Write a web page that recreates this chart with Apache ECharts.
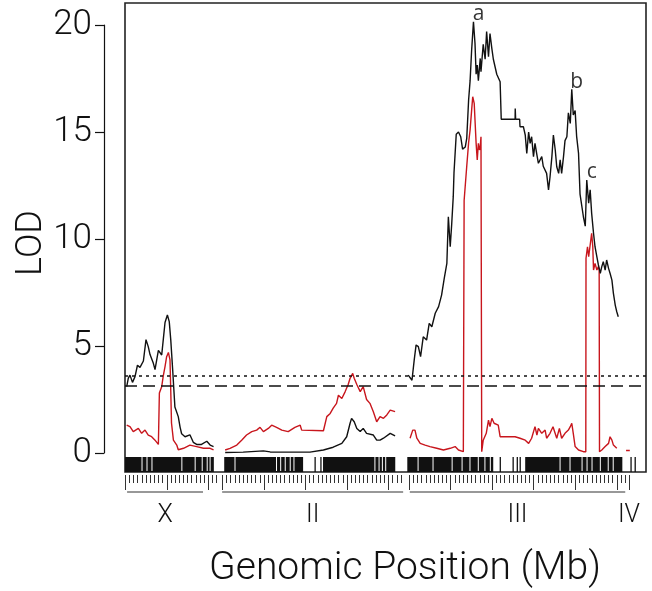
<!DOCTYPE html>
<html><head><meta charset="utf-8">
<script src="https://cdn.jsdelivr.net/npm/echarts@6/dist/echarts.min.js"></script>
<style>html,body{margin:0;padding:0;background:#fff}#c{width:652px;height:591px}</style>
</head><body><div id="c"></div>
<script>
// ---- data (positions in Mb along concatenated genome, LOD values) ----
const blackX = [[0.41,3.1],[0.8,3.5],[1.2,3.64],[1.8,3.3],[2.41,3.57],[3.0,4.1],[3.61,4.0],[4.43,4.3],[5.06,5.3],[5.6,4.97],[6.03,4.6],[6.83,4.19],[7.23,3.9],[8.04,4.8],[8.84,4.58],[9.22,5.3],[9.64,6.1],[10.21,6.45],[10.66,6.14],[11.02,5.3],[11.48,3.9],[12.02,2.15],[12.83,1.7],[13.28,1.2],[13.64,0.9],[14.46,0.76],[15.63,0.85],[16.45,0.5],[17.26,0.4],[18.43,0.4],[19.7,0.55],[20.51,0.37],[21.33,0.3]];
const redX = [[0.41,1.3],[1.2,1.23],[1.99,1.0],[3.22,1.15],[4.01,0.92],[4.82,1.07],[5.6,0.84],[6.42,0.76],[7.23,0.6],[8.04,0.4],[8.2,0.35],[8.28,2.8],[8.84,3.1],[9.22,3.6],[9.64,4.04],[10.03,4.5],[10.45,4.7],[10.84,4.35],[11.02,2.94],[11.2,1.4],[11.66,0.6],[12.47,0.37],[12.83,0.15],[14.1,0.22],[15.63,0.37],[17.26,0.3],[18.89,0.22],[20.51,0.22],[21.33,0.15]];
const blackII = [[24.13,0.02],[28.46,0.04],[33.34,0.1],[34.97,0.05],[40.48,0.04],[44.55,0.04],[47.8,0.14],[50.15,0.27],[52.23,0.45],[53.4,0.76],[54.22,1.39],[54.58,1.62],[55.21,1.46],[55.84,1.15],[56.66,1.0],[57.38,1.15],[58.19,0.92],[59.82,0.84],[60.63,0.6],[61.44,0.6],[62.26,0.69],[63.88,0.92],[65.06,0.8]];
const redII = [[24.13,0.14],[25.3,0.22],[26.93,0.37],[28.1,0.6],[29.28,0.84],[30.54,1.0],[31.72,1.07],[32.53,1.2],[33.34,1.0],[34.52,1.15],[35.33,1.3],[36.51,1.2],[37.77,1.07],[39.31,1.0],[40.93,1.2],[42.2,1.3],[42.56,1.07],[47.8,1.04],[48.61,1.7],[49.43,1.85],[50.15,2.1],[50.96,2.32],[51.41,2.7],[52.23,2.55],[53.04,2.87],[53.76,3.2],[54.22,3.49],[54.85,3.72],[55.21,3.49],[55.84,3.2],[56.66,2.87],[57.38,3.1],[58.19,2.5],[59.0,2.32],[59.82,1.93],[60.63,1.46],[61.44,1.7],[62.26,1.62],[63.07,1.78],[63.88,2.0],[65.06,1.93]];
const blackIII = [[68.22,3.64],[69.13,3.4],[69.67,4.35],[70.12,5.05],[70.66,4.97],[71.2,4.5],[71.84,5.43],[72.65,5.28],[73.28,6.06],[73.91,5.9],[74.73,6.53],[75.54,6.84],[76.26,7.38],[76.9,8.16],[77.53,8.86],[77.89,11.04],[78.34,9.64],[78.7,10.7],[79.07,11.98],[79.25,13.1],[79.79,14.9],[80.33,15.0],[80.87,14.78],[81.32,14.2],[81.96,14.3],[82.32,14.7],[82.77,16.5],[83.13,17.4],[83.49,18.8],[83.94,20.15],[84.31,19.14],[84.58,17.7],[84.85,18.13],[85.12,17.4],[85.57,18.44],[85.75,17.82],[86.29,19.1],[86.75,18.4],[87.11,19.7],[87.56,18.52],[87.92,19.6],[88.37,18.9],[88.73,18.4],[89.55,17.7],[90.36,17.35],[90.63,15.6],[93.97,15.6],[94.0,16.1],[94.1,15.6],[95.06,15.6],[95.15,15.25],[95.96,15.25],[96.41,14.86],[96.78,14.0],[97.23,15.0],[97.59,14.47],[97.95,14.78],[98.4,13.85],[98.76,14.47],[99.22,13.93],[99.58,13.54],[100.39,13.85],[100.75,13.4],[101.56,13.07],[102.02,12.3],[102.38,12.9],[102.83,13.85],[103.19,14.86],[103.64,14.16],[104.0,13.38],[104.46,13.07],[104.82,13.7],[105.18,13.07],[105.63,13.85],[105.99,14.6],[106.44,14.78],[106.8,15.9],[107.26,15.4],[107.62,17.0],[107.98,15.8],[108.43,16.0],[108.79,14.8],[109.25,14.0],[109.61,12.1],[110.42,11.04],[110.87,10.6],[111.23,12.76],[111.69,11.67],[112.05,12.3],[112.41,11.2],[112.86,10.27],[113.22,9.64],[113.67,9.17],[114.03,8.79],[114.49,8.4],[114.85,8.71],[115.21,8.94],[115.66,8.55],[116.02,9.02],[116.48,8.63],[116.84,8.4],[117.29,8.08],[117.65,7.46],[118.1,6.9],[118.46,6.6],[118.82,6.37]];
const redIII = [[68.67,0.69],[69.31,1.07],[69.85,1.07],[70.3,0.69],[71.11,0.45],[72.29,0.37],[73.46,0.3],[75.09,0.22],[76.71,0.14],[78.34,0.22],[79.52,0.3],[80.33,0.14],[81.5,0.06],[81.69,11.8],[82.32,13.4],[82.77,14.5],[83.13,15.1],[83.49,16.0],[83.76,16.65],[84.12,16.34],[84.31,15.56],[84.58,14.47],[84.85,13.7],[85.12,14.47],[85.39,14.16],[85.57,14.3],[85.75,14.78],[85.93,0.06],[86.29,0.6],[87.02,0.92],[87.56,1.54],[87.92,1.23],[88.37,1.62],[88.91,1.39],[89.91,1.3],[90.36,0.76],[93.97,0.76],[94.07,0.84],[95.15,0.69],[96.41,0.6],[97.23,0.45],[97.95,0.69],[98.76,1.23],[99.22,0.84],[99.58,1.15],[100.39,0.92],[101.2,1.07],[101.56,0.69],[102.38,0.92],[103.1,1.23],[103.37,1.3],[104.0,0.69],[104.64,1.15],[105.18,0.69],[105.99,0.92],[106.8,1.07],[107.26,1.23],[107.62,1.39],[107.98,0.92],[108.43,0.3],[109.25,0.14],[110.42,0.06],[111.0,0.06],[111.05,9.1],[111.41,9.64],[111.69,9.17],[112.05,9.72],[112.41,10.27],[112.68,9.64],[112.86,8.55],[113.22,8.86],[113.67,8.55],[114.03,8.71],[114.22,8.55],[114.3,0.06],[114.85,0.14],[115.66,0.3],[116.48,0.45],[116.84,0.76],[117.29,0.6],[117.65,0.37],[118.46,0.22]];
const redIV = [[120.7,0.12],[121.6,0.12]];

const thresholds = [3.61, 3.13];           // dotted, dashed
const peakPos = [83.94, 107.62, 111.23];
const peakLod = [20.15, 17.0, 12.76];
const peakLabel = ['a', 'b', 'c'];

const chromNames = ['X', 'II', 'III', 'IV'];
const chromStart = [0, 23.4, 68.4, 121.4];
const chromTickEnd = [22, 66.5, 120.7, 121.4];
const chromLineStart = [0.5, 23.4, 68.6, 121.4];
const chromLineEnd = [18.8, 67.0, 120.5, 121.4];

const rugBlocks = [[0,21.4],[23.9,42.9],[47.7,65.1],[68.0,88.7],[96.4,119.8]];
const rugLines = [45.8,47.2,90.4,93.5,94.5,95.2,121.9,122.9];
const rugGaps = [4.1,5.3,6.5,13.7,16.9,18.6,19.8,20.5,26.5,36.5,37.5,38.6,39.8,40.7,60.2,61.2,62.0,62.8,70.6,74.2,78.8,81.2,83.1,85.1,86.7,88.0,104.8,107.2,110.1,111.3,112.5,114.5,116.4,117.6];

const X_MAX = 125.5, Y_MIN = -0.888, Y_MAX = 21.03;
const RED = '#c8161d', BLACK = '#111';
const FONT = 'Roboto, "Liberation Sans", sans-serif';

// ---- build ----
const ticks = [];
chromNames.forEach((n, i) => {
  for (let k = 0; chromStart[i] + k <= chromTickEnd[i] + 1e-9; k++) ticks.push([chromStart[i] + k, k % 10 === 0 ? 1 : 0]);
});
const lines = chromNames.map((n, i) => [chromLineStart[i], chromLineEnd[i], (chromLineStart[i] + chromLineEnd[i]) / 2, n]);

function lineSeries(data, color, z) {
  return { type: 'line', xAxisIndex: 1, yAxisIndex: 1, data, showSymbol: false, symbol: 'none',
    lineStyle: { color, width: 1.4 }, z, silent: true, animation: false };
}

const chart = echarts.init(document.getElementById('c'), null, { renderer: 'canvas' });
const series = [
  lineSeries(redX, RED, 2), lineSeries(redII, RED, 2), lineSeries(redIII, RED, 2), lineSeries(redIV, RED, 2),
  Object.assign(lineSeries(blackX, BLACK, 3), {
    markLine: { symbol: 'none', silent: true, label: { show: false }, animation: false,
      data: [
        { yAxis: thresholds[0], lineStyle: { color: BLACK, width: 1.5, type: [3, 4] } },
        { yAxis: thresholds[1], lineStyle: { color: BLACK, width: 1.5, type: [12, 6] } }
      ] }
  }),
  lineSeries(blackII, BLACK, 3), lineSeries(blackIII, BLACK, 3),
  { type: 'scatter', xAxisIndex: 1, yAxisIndex: 1, symbolSize: 0, silent: true, animation: false,
    data: peakPos.map((p, i) => [p, peakLod[i], peakLabel[i]]),
    label: { show: true, position: 'top', distance: 1, offset: [5, 4], formatter: p => p.value[2],
      fontSize: 21, fontFamily: '"Open Sans", sans-serif', color: '#000' } },
  // rug
  { type: 'custom', xAxisIndex: 1, yAxisIndex: 1, data: rugBlocks, silent: true, animation: false, z: 4,
    renderItem: (params, api) => {
      const a = api.coord([api.value(0), Y_MIN]), b = api.coord([api.value(1), Y_MIN]);
      return { type: 'rect', shape: { x: a[0], y: a[1] - 15, width: b[0] - a[0], height: 15 }, style: { fill: BLACK } };
    } },
  { type: 'custom', xAxisIndex: 1, yAxisIndex: 1, data: rugLines.map(v => [v]), silent: true, animation: false, z: 5,
    renderItem: (params, api) => {
      const a = api.coord([api.value(0), Y_MIN]);
      return { type: 'line', shape: { x1: a[0], y1: a[1] - 15, x2: a[0], y2: a[1] }, style: { stroke: BLACK, lineWidth: 1.3 } };
    } },
  { type: 'custom', xAxisIndex: 1, yAxisIndex: 1, data: rugGaps.map(v => [v]), silent: true, animation: false, z: 5,
    renderItem: (params, api) => {
      const a = api.coord([api.value(0), Y_MIN]);
      return { type: 'line', shape: { x1: a[0], y1: a[1] - 15, x2: a[0], y2: a[1] - 1 }, style: { stroke: '#fff', lineWidth: 1 } };
    } },
  // chromosome ticks
  { type: 'custom', xAxisIndex: 1, yAxisIndex: 1, data: ticks, silent: true, animation: false, clip: false,
    renderItem: (params, api) => {
      const a = api.coord([api.value(0), Y_MIN]);
      const x = Math.round(a[0]) + 0.5;
      return { type: 'line', shape: { x1: x, y1: a[1] + 3, x2: x, y2: a[1] + (api.value(1) ? 18 : 11) }, style: { stroke: '#333', lineWidth: 1 } };
    } },
  { type: 'custom', xAxisIndex: 1, yAxisIndex: 1, data: lines, silent: true, animation: false, clip: false,
    renderItem: (params, api) => {
      const a = api.coord([api.value(0), Y_MIN]), b = api.coord([api.value(1), Y_MIN]), m = api.coord([api.value(2), Y_MIN]);
      return { type: 'group', children: [
        { type: 'line', shape: { x1: a[0], y1: a[1] + 20, x2: b[0], y2: a[1] + 20 }, style: { stroke: '#333', lineWidth: 1.2 } },
        { type: 'text', style: { text: lines[params.dataIndex][3], x: m[0], y: a[1] + 44, align: 'center', verticalAlign: 'middle',
          font: '300 25px ' + FONT, fill: BLACK } }
      ] };
    } }
];

chart.setOption({
  animation: false,
  grid: [
    { left: 104, top: 25, width: 1, height: 428, show: false },
    { left: 125, top: 3, width: 521, height: 469, show: true, borderColor: '#222', borderWidth: 1.6, backgroundColor: 'transparent' }
  ],
  xAxis: [
    { gridIndex: 0, type: 'value', show: false },
    { gridIndex: 1, type: 'value', min: 0, max: X_MAX, show: false }
  ],
  yAxis: [
    { gridIndex: 0, type: 'value', min: 0, max: 20, interval: 5, position: 'left',
      axisLine: { show: true, lineStyle: { color: BLACK, width: 1.2 } },
      axisTick: { show: true, length: 9, lineStyle: { color: BLACK, width: 1.2 } },
      splitLine: { show: false },
      axisLabel: { fontSize: 35, fontFamily: FONT, fontWeight: 300, color: BLACK, margin: 12 } },
    { gridIndex: 1, type: 'value', min: Y_MIN, max: Y_MAX, show: false, splitLine: { show: false } }
  ],
  graphic: [
    { type: 'text', x: 32, y: 243, rotation: Math.PI / 2,
      style: { text: 'LOD', font: '300 36px ' + FONT, fill: BLACK, align: 'center', verticalAlign: 'middle' } },
    { type: 'text', x: 405, y: 569,
      style: { text: 'Genomic Position (Mb)', font: '300 39px ' + FONT, fill: BLACK, align: 'center', verticalAlign: 'middle' } }
  ],
  series
});
</script></body></html>
